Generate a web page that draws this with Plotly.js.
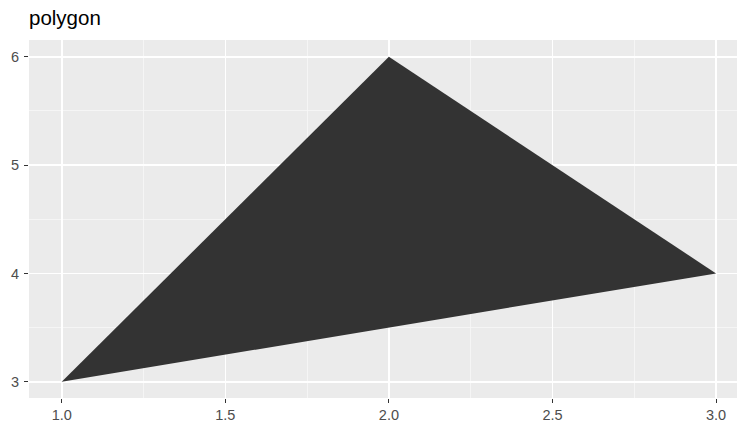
<!DOCTYPE html>
<html>
<head>
<meta charset="utf-8">
<script src="https://cdn.plot.ly/plotly-3.0.1.min.js"></script>
<style>html,body{margin:0;padding:0;background:#fff;}#chart{width:737px;height:425px;}</style>
</head>
<body>
<div id="chart"></div>
<script>
const xs = [1, 2, 3];
const ys = [3, 6, 4];
const xTicks = [1.0, 1.5, 2.0, 2.5, 3.0];
const yTicks = [3, 4, 5, 6];

const trace = {
  x: xs, y: ys, type: 'scatter', mode: 'none',
  fill: 'toself', fillcolor: '#333333', hoverinfo: 'none'
};

const axisCommon = {
  showgrid: true, gridcolor: '#ffffff', gridwidth: 1.6,
  zeroline: false, showline: false,
  ticks: 'outside', ticklen: 4, tickcolor: '#333333', tickwidth: 1.1,
  tickfont: {family: 'Liberation Sans, Arial, sans-serif', size: 14.5, color: '#4d4d4d'},
  minor: {showgrid: true, gridcolor: '#f7f7f7', gridwidth: 0.8, ticks: ''}
};

const layout = {
  width: 737, height: 425,
  margin: {l: 29, r: 0, t: 40, b: 27},
  paper_bgcolor: '#ffffff', plot_bgcolor: '#ebebeb',
  showlegend: false,
  title: {text: 'polygon', x: 29/737, xanchor: 'left', y: 0.958, yanchor: 'middle',
    font: {family: 'Liberation Sans, Arial, sans-serif', size: 20.5, color: '#000000'}},
  xaxis: Object.assign({}, axisCommon, {
    range: [0.9, 3.064], tickvals: xTicks, ticktext: xTicks.map(v => v.toFixed(1)),
    ticklabelstandoff: 0,
    minor: Object.assign({}, axisCommon.minor, {tickvals: [1.25, 1.75, 2.25, 2.75]})
  }),
  yaxis: Object.assign({}, axisCommon, {
    range: [2.85, 6.155], tickvals: yTicks, ticktext: yTicks.map(String),
    ticklabelstandoff: 2,
    minor: Object.assign({}, axisCommon.minor, {tickvals: [3.5, 4.5, 5.5]})
  })
};

Plotly.newPlot('chart', [trace], layout, {displayModeBar: false, staticPlot: true});
</script>
</body>
</html>
